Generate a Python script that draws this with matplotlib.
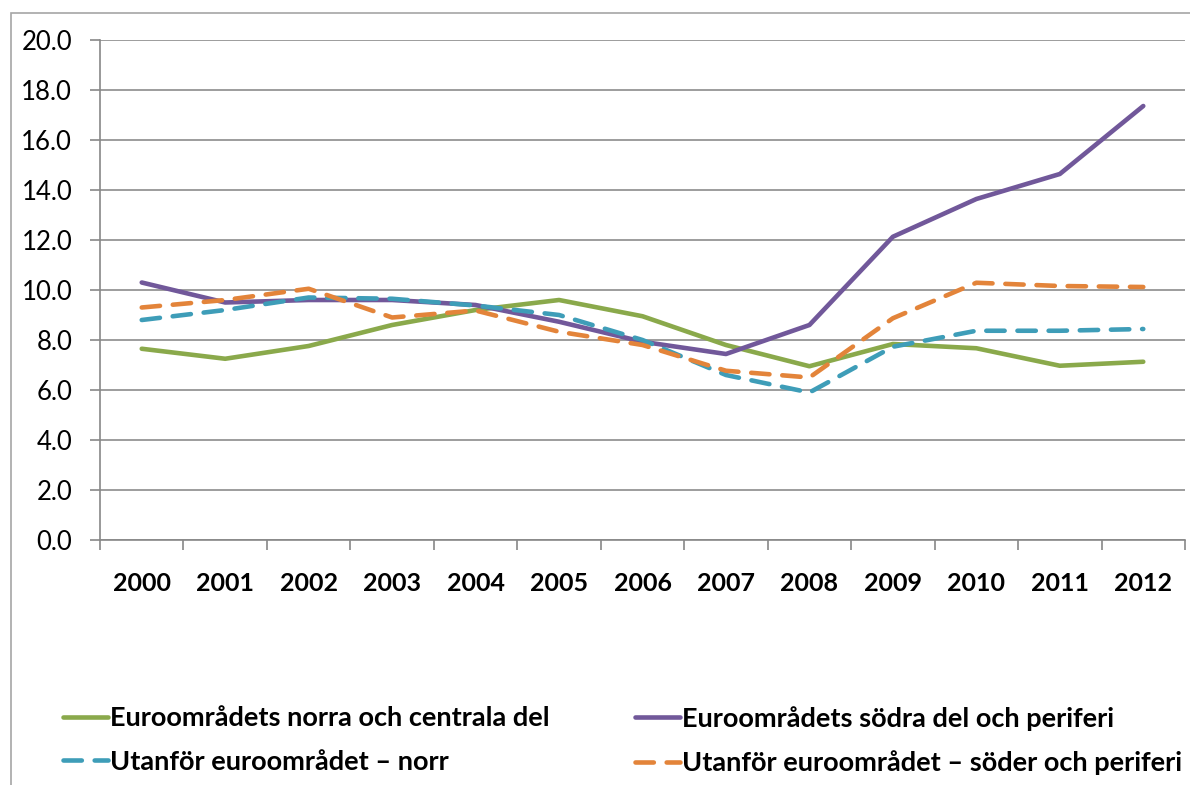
import matplotlib.pyplot as plt
from matplotlib.patches import Rectangle

years = ['2000', '2001', '2002', '2003', '2004', '2005', '2006',
         '2007', '2008', '2009', '2010', '2011', '2012']

norra_central = [7.65, 7.25, 7.76, 8.6, 9.2, 9.6, 8.95, 7.8, 6.95, 7.84, 7.67, 6.97, 7.13]
sodra_periferi = [10.3, 9.5, 9.6, 9.6, 9.4, 8.73, 7.93, 7.44, 8.6, 12.13, 13.64, 14.64, 17.36]
utanfor_norr = [8.8, 9.2, 9.7, 9.65, 9.38, 9.0, 8.0, 6.6, 5.9, 7.73, 8.37, 8.37, 8.44]
utanfor_soder = [9.3, 9.6, 10.05, 8.9, 9.18, 8.33, 7.8, 6.77, 6.5, 8.87, 10.29, 10.16, 10.12]

labels = ['Euroområdets norra och centrala del',
          'Euroområdets södra del och periferi',
          'Utanför euroområdet – norr',
          'Utanför euroområdet – söder och periferi']

green = '#8AA94B'
purple = '#71589A'
teal = '#3E9DB8'
orange = '#E3843A'

plt.rcParams['font.family'] = ['Lato', 'DejaVu Sans']

fig = plt.figure(figsize=(11.9, 7.85), dpi=100)
ax = fig.add_axes([100 / 1190, 1 - 540 / 785, 1085 / 1190, 500 / 785])

x = list(range(len(years)))
l1, = ax.plot(x, norra_central, color=green, lw=3.3, solid_capstyle='round')
l2, = ax.plot(x, sodra_periferi, color=purple, lw=3.3, solid_capstyle='round')
l3, = ax.plot(x, utanfor_norr, color=teal, lw=3.3, dashes=(4, 2.8), dash_capstyle='round')
l4, = ax.plot(x, utanfor_soder, color=orange, lw=3.3, dashes=(4, 2.8), dash_capstyle='round')

ax.set_xlim(-0.5, len(years) - 0.5)
ax.set_ylim(0, 20)
ax.set_yticks([i * 2 for i in range(11)])
ax.set_yticklabels(['%.1f' % (i * 2) for i in range(11)], fontsize=18.5)
ax.set_xticks(x)
ax.set_xticklabels(years, fontsize=18, fontweight='bold')
ax.set_xticks([i - 0.5 for i in range(len(years) + 1)], minor=True)
ax.tick_params(axis='x', which='major', length=0, pad=23)
ax.tick_params(axis='x', which='minor', length=7, color='#888888', width=1.2)
ax.tick_params(axis='y', length=7, color='#888888', width=1.2, pad=13)
ax.grid(axis='y', color='#8c8c8c', lw=1.2)
ax.set_axisbelow(True)
for s in ['top', 'right']:
    ax.spines[s].set_visible(False)
for s in ['left', 'bottom']:
    ax.spines[s].set_color('#888888')
    ax.spines[s].set_linewidth(1.2)

# outer chart border (only left and top visible)
fig.patches.append(Rectangle((11 / 1190, -0.1), 1.2, 1 - 13 / 785 + 0.1,
                             transform=fig.transFigure, fill=False,
                             edgecolor='#a6a6a6', lw=1.2))

leg_kw = dict(frameon=False, loc='upper left', handlelength=1.66, handletextpad=0.08,
              labelspacing=0.72, borderaxespad=0, borderpad=0,
              prop={'size': 19.5, 'weight': 'bold'})
fig.legend([l1, l3], [labels[0], labels[2]], bbox_to_anchor=(63 / 1190, 1 - 706 / 785), **leg_kw)
fig.legend([l2, l4], [labels[1], labels[3]], bbox_to_anchor=(635 / 1190, 1 - 706 / 785), **leg_kw)

fig.savefig('out.png', dpi=100)
